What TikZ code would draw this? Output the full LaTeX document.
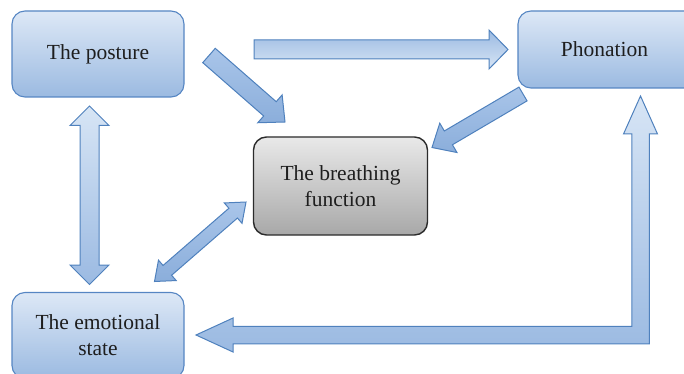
\documentclass[tikz,border=0pt]{standalone}
\usepackage{fontspec}
\setmainfont{Liberation Serif}
\usetikzlibrary{calc}

\definecolor{boxtop}{HTML}{DDE8F6}
\definecolor{boxbot}{HTML}{9BBAE1}
\definecolor{boxline}{HTML}{5686C3}
\definecolor{greytop}{HTML}{E9E9E9}
\definecolor{greybot}{HTML}{A8A8A8}
\definecolor{greyline}{HTML}{2B2B2B}
\definecolor{arrline}{HTML}{4F81BD}
\definecolor{txt}{HTML}{1E1E1E}
\definecolor{amidA}{HTML}{A9C5E9}
\definecolor{amidB}{HTML}{8BAEDB}
\definecolor{alight}{HTML}{D7E5F5}
\definecolor{adark}{HTML}{9BBAE2}

% single fat arrow: [style]{from}{to}{half shaft}{half head}{head length}
\newcommand\fatarrow[6][]{%
  \coordinate (fa-h) at ($(#3)!#6!(#2)$);
  \path[#1] ($(#2)!#4!90:(#3)$) -- ($(fa-h)!#4!90:(#3)$) -- ($(fa-h)!#5!90:(#3)$)
    -- (#3) -- ($(fa-h)!#5!-90:(#3)$) -- ($(fa-h)!#4!-90:(#3)$)
    -- ($(#2)!#4!-90:(#3)$) -- cycle;}

% double-headed fat arrow: [style]{end a}{end b}{half shaft}{half head}{head length}
\newcommand\fatdarrow[6][]{%
  \coordinate (fd-a) at ($(#2)!#6!(#3)$);
  \coordinate (fd-b) at ($(#3)!#6!(#2)$);
  \path[#1] (#2) -- ($(fd-a)!#5!90:(#3)$) -- ($(fd-a)!#4!90:(#3)$)
    -- ($(fd-b)!#4!-90:(#2)$) -- ($(fd-b)!#5!-90:(#2)$) -- (#3)
    -- ($(fd-b)!#5!90:(#2)$) -- ($(fd-b)!#4!90:(#2)$)
    -- ($(fd-a)!#4!-90:(#3)$) -- ($(fd-a)!#5!-90:(#3)$) -- cycle;}

\begin{document}
\begin{tikzpicture}[x=1pt,y=-1pt,
  bluebox/.style={draw=boxline, line width=1.1pt, rounded corners=13pt,
    top color=boxtop, bottom color=boxbot, inner sep=0pt, align=center,
    text=txt, font=\fontsize{21.5}{26}\selectfont},
  greybox/.style={bluebox, draw=greyline, line width=1.4pt,
    top color=greytop, bottom color=greybot},
  arrbase/.style={draw=arrline, line width=1pt, line join=miter},
  diagarrow/.style={arrbase, top color=amidA, bottom color=amidB},
  vertarrow/.style={arrbase, top color=alight, bottom color=adark},
  horzarrow/.style={arrbase, top color=adark, bottom color=alight},
]
\useasboundingbox (0,0) rectangle (684,374);

% boxes (Phonation runs past the right edge)
\node[bluebox, minimum width=172pt, minimum height=86pt] (posture) at (98,54) {The posture};
\node[bluebox, minimum width=188pt, minimum height=77pt] (phon) at (612,49.5) {Phonation\hspace*{15pt}};
\node[greybox, minimum width=174pt, minimum height=98pt] (breath) at (340.5,186) {The breathing\\function};
\node[bluebox, minimum width=172pt, minimum height=86pt] (emo) at (98,335.5) {The emotional\\state};

% arrow end points
\coordinate (p-h1) at (254,49.5);
\coordinate (p-h2) at (508,49.5);
\coordinate (p-d1) at (209,55.5);
\coordinate (p-d2) at (285,122);
\coordinate (ph-d1) at (523,94);
\coordinate (ph-d2) at (432,147.5);
\coordinate (pe-1) at (89.5,106);
\coordinate (pe-2) at (89.5,284.5);
\coordinate (be-1) at (246,202);
\coordinate (be-2) at (154.5,281.5);
\coordinate (up) at (640.5,96);
\coordinate (lt) at (196,335);

% connectors
\fatarrow[horzarrow]{p-h1}{p-h2}{9.5pt}{19.5pt}{19pt}
\fatarrow[diagarrow]{p-d1}{p-d2}{9.5pt}{18.5pt}{20pt}
\fatarrow[diagarrow]{ph-d1}{ph-d2}{8pt}{17pt}{19pt}
\fatdarrow[vertarrow]{pe-1}{pe-2}{9.5pt}{19.5pt}{19.5pt}
\fatdarrow[diagarrow]{be-1}{be-2}{6.5pt}{13.5pt}{17pt}

% elbow arrow from the bottom back up to Phonation
\path[vertarrow] (up) -- ($(up)+(17,38)$) -- ($(up)+(8.75,38)$)
  -- ($(up |- lt)+(8.75,8.75)$) -- ($(lt)+(37,8.75)$) -- ($(lt)+(37,17)$)
  -- (lt) -- ($(lt)+(37,-17)$) -- ($(lt)+(37,-8.75)$)
  -- ($(up |- lt)+(-8.75,-8.75)$) -- ($(up)+(-8.75,38)$) -- ($(up)+(-17,38)$) -- cycle;
\end{tikzpicture}
\end{document}
